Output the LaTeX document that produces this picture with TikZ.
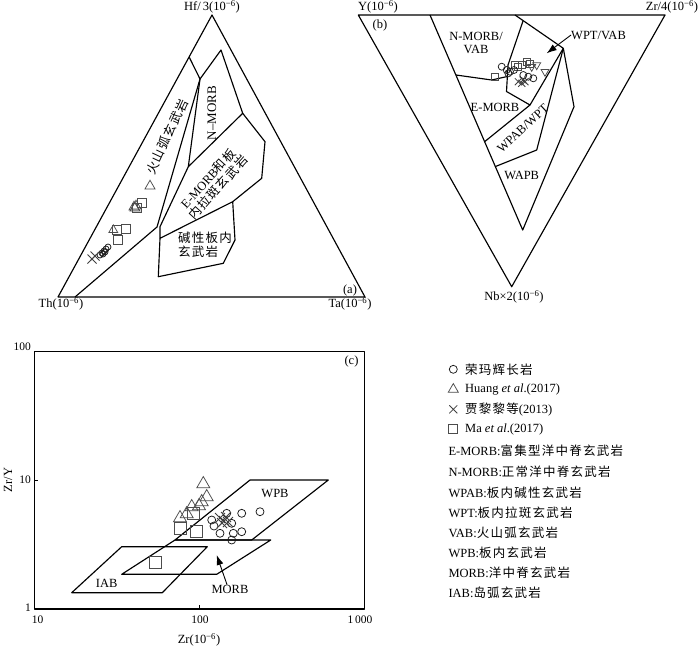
\documentclass[tikz,border=0pt]{standalone}
\usepackage{fontspec}
\setmainfont{Liberation Serif}
\newfontfamily\cjk{Noto Sans CJK SC}[LetterSpace=10]
\usetikzlibrary{arrows.meta,calc}
\newcommand\ppm{(10\textsuperscript{−6})}
\newcommand\mkT[3]{\draw[mk] ({#1-#3/2},{#2+0.289*#3}) -- ({#1+#3/2},{#2+0.289*#3}) -- ({#1},{#2-0.577*#3}) -- cycle;}
\newcommand\mkV[3]{\draw[mk] ({#1-#3/2},{#2-0.289*#3}) -- ({#1+#3/2},{#2-0.289*#3}) -- ({#1},{#2+0.577*#3}) -- cycle;}
\newcommand\mkS[3]{\draw[mk] ({#1-#3/2},{#2-#3/2}) rectangle ({#1+#3/2},{#2+#3/2});}
\newcommand\mkC[3]{\draw[mkc] (#1,#2) circle[radius=#3];}
\newcommand\mkX[3]{\draw[mkx] ({#1-#3/2},{#2-#3/2}) -- ({#1+#3/2},{#2+#3/2}) ({#1-#3/2},{#2+#3/2}) -- ({#1+#3/2},{#2-#3/2});}
\tikzset{
  ln/.style={line width=1.15pt, line join=round},
  lbl/.style={font=\fontsize{12.5}{13.5}\selectfont, inner sep=0pt},
  tlbl/.style={font=\fontsize{11.5}{13}\selectfont, inner sep=0pt},
  mk/.style={line width=0.75pt, draw=black!70},
  mkc/.style={line width=0.75pt, draw=black!90},
  mkx/.style={line width=0.85pt, draw=black!75},
  arr/.style={line width=0.9pt, -{Latex[length=10pt,width=7pt]}},
}
\begin{document}
\begin{tikzpicture}[x=1pt,y=-1pt]
\useasboundingbox[fill=white] (0,0) rectangle (700,646);
% ---------------- panel (a)
\draw[ln] (212,15) -- (365,297) -- (58,297) -- cycle;
\draw[ln] (189.3,57.3) -- (200,79) -- (157,227) -- (75,297);
\draw[ln] (200,79) -- (221,50) -- (242.7,113.3) -- (188.3,166.7) -- cycle;
\draw[ln] (242.7,113.3) -- (265,141.7) -- (261.7,178.3) -- (232.7,201.7) -- (160,238.3) -- (160,226.7) -- (188.3,166.7);
\draw[ln] (232.7,201.7) -- (235,240) -- (223.3,263.3) -- (158.3,276.7) -- (160,238.3);
\node[lbl] (hf) at (212,7) {Hf/\,3\ppm};
\node[lbl] (th) at (61,304) {Th\ppm};
\node[lbl] (ta) at (350,304) {Ta\ppm};
\node[lbl] (pa) at (350,290) {(a)};
\node[lbl,rotate=65] (vab) at (167,137) {\cjk 火山弧玄武岩};
\node[lbl,font=\fontsize{13}{14}\selectfont,rotate=90] (nmorb) at (212,113) {N–MORB};
\node[lbl,rotate=48,align=center] (emorb) at (213,183) {E-MORB{\cjk 和板}\\{\cjk 内拉斑玄武岩}};
\node[lbl,anchor=north west,align=left] (wpa) at (178,232) {\cjk 碱性板内\\\cjk 玄武岩};
% data (a)
\mkT{150}{186}{10}
\mkS{141.7}{203.3}{9}
\mkS{137.3}{208.3}{9}
\mkT{134}{207}{10}
\mkT{136}{206}{10}
\mkT{135}{208}{10}
\mkS{116.7}{230}{9}
\mkS{125.7}{229.3}{9}
\mkT{113.3}{230}{9}
\mkS{118.3}{240}{9}
\mkC{108}{247}{3}
\mkC{106}{249}{3}
\mkC{104}{251}{3}
\mkC{102}{253}{3}
\mkC{105}{252}{3}
\mkC{100}{255}{3}
\mkC{103}{254}{3}
\mkX{95}{256}{9}
\mkX{92}{259}{9}
% ---------------- panel (b)
\draw[ln] (358.3,15) -- (665,15) -- (511.7,286.7) -- cycle;
\draw[ln] (430,15) -- (522.7,230) -- (574,106.7) -- (563.3,48.3) -- (515,15);
\draw[ln] (523,21) -- (508,65) -- (506.5,91.5) -- (530,105) -- (563.3,48.3);
\draw[ln] (484.6,141.7) -- (530,105);
\draw[ln] (495,166.7) -- (536.7,150) -- (563.3,48.3);
\draw[ln] (456,75) -- (491.7,80) -- (507.3,76.5);
\node[lbl] (yl) at (378,7) {Y\ppm};
\node[lbl] (zrl) at (672,7) {Zr/4\ppm};
\node[lbl] (nbl) at (514,297) {Nb×2\ppm};
\node[lbl] (pb) at (380,25) {(b)};
\node[lbl,align=center] (nvab) at (476,43) {N-MORB/\\VAB};
\node[lbl] (emb) at (495,107) {E-MORB};
\node[lbl,rotate=43] (wpab) at (522.7,128.3) {WPAB/WPT};
\node[lbl] (wapb) at (521.7,175) {WAPB};
\node[lbl,anchor=west] (wptvab) at (571,35) {WPT/VAB};
\coordinate (wptTip) at (546.7,53.3);
\draw[arr] (wptvab.west) -- (wptTip);
% data (b)
\mkS{495}{76.7}{7}
\mkS{526.7}{61.7}{7}
\mkS{518.3}{66.7}{7}
\mkS{515}{65}{7}
\mkS{521.7}{65}{7}
\mkS{530}{64}{7}
\mkV{536.7}{65}{8}
\mkV{545}{71.7}{8}
\mkV{531.7}{66.7}{8}
\mkC{501.7}{66.7}{3.5}
\mkC{506.7}{70}{3.5}
\mkC{510}{71.7}{3.5}
\mkC{508.3}{73.3}{3.5}
\mkC{514}{70}{3.5}
\mkC{523.3}{75}{3.5}
\mkC{528.3}{76.7}{3.5}
\mkC{533.3}{78.3}{3.5}
\mkX{518.3}{81.7}{7}
\mkX{521.7}{83.3}{7}
\mkX{525}{81.7}{7}
\mkX{523}{80}{7}
% ---------------- panel (c)
\draw[ln] (34.3,351.7) rectangle (364.3,609);
\draw[line width=0.8pt] (34.3,480) -- (38.3,480) (34.3,351.7) -- (38.3,351.7)
  (199.3,609) -- (199.3,605) (34.3,609) -- (34.3,605) (364.3,609) -- (364.3,605);
\draw[ln] (175,540) -- (250,480) -- (328.3,480) -- (251.7,540) -- cycle;
\draw[ln] (121.7,574.3) -- (175,540) -- (270.7,540) -- (216.7,574.3) -- cycle;
\draw[ln] (71.7,592.7) -- (121.7,546.7) -- (207.3,546.7) -- (162.3,592.7) -- cycle;
\node[tlbl,anchor=east] (y100) at (31,347) {100};
\node[tlbl,anchor=east] (y10) at (31,480) {10};
\node[tlbl,anchor=east] (y1) at (31,608) {1};
\node[tlbl] (x10) at (37.7,620) {10};
\node[tlbl] (x100) at (200,620) {100};
\node[tlbl] (x1000) at (360,620) {1\,000};
\node[lbl] (xt) at (199,640) {Zr\ppm};
\node[lbl,rotate=90] (yt) at (8,480) {Zr/Y};
\node[lbl] (pc) at (351.5,361.7) {(c)};
\node[lbl] (wpb) at (275,493.3) {WPB};
\node[lbl] (iab) at (106.7,583.3) {IAB};
\node[lbl] (morb) at (230,589) {MORB};
\coordinate (morbTip) at (216.7,555);
\draw[arr] ($(morb.north)+(-3,0)$) -- (morbTip);
% data (c)
\mkT{203.3}{484}{13}
\mkT{206.7}{497}{13}
\mkT{201.7}{502}{13}
\mkT{199}{506}{13}
\mkT{191.7}{507}{13}
\mkT{186.7}{514}{13}
\mkT{180}{518}{13}
\mkS{193.3}{513.3}{12}
\mkS{180}{528.3}{12}
\mkS{196.7}{531.7}{12}
\mkS{155}{562.7}{12}
\mkC{211.7}{520}{4}
\mkC{214}{526}{4}
\mkC{226.7}{513.3}{4}
\mkC{241.7}{513.3}{4}
\mkC{260}{511.7}{4}
\mkC{231.7}{523.3}{4}
\mkC{220}{533.3}{4}
\mkC{233.3}{533.3}{4}
\mkC{241.7}{531.7}{4}
\mkC{231.7}{540}{4}
\mkX{220}{518}{10}
\mkX{224}{521}{10}
\mkX{226}{517}{10}
\mkX{222}{523}{10}
\mkX{228}{522}{10}
% ---------------- legend
\mkC{453.3}{369.3}{4}
\mkT{453.3}{389.3}{10}
\mkX{453.3}{409.3}{8}
\mkS{453.3}{429.3}{9}
\node[lbl,anchor=west] (l1) at (465,369.3) {\cjk 荣玛辉长岩};
\node[lbl,anchor=west] (l2) at (465,389.3) {Huang \textit{et al}.(2017)};
\node[lbl,anchor=west] (l3) at (465,409.3) {{\cjk 贾黎黎等}(2013)};
\node[lbl,anchor=west] (l4) at (465,429.3) {Ma \textit{et al}.(2017)};
\node[lbl,anchor=west] (l5) at (448.3,451) {E-MORB:{\cjk 富集型洋中脊玄武岩}};
\node[lbl,anchor=west] (l6) at (448.3,471.7) {N-MORB:{\cjk 正常洋中脊玄武岩}};
\node[lbl,anchor=west] (l7) at (448.3,492.3) {WPAB:{\cjk 板内碱性玄武岩}};
\node[lbl,anchor=west] (l8) at (448.3,512.3) {WPT:{\cjk 板内拉斑玄武岩}};
\node[lbl,anchor=west] (l9) at (448.3,532.3) {VAB:{\cjk 火山弧玄武岩}};
\node[lbl,anchor=west] (l10) at (448.3,552.3) {WPB:{\cjk 板内玄武岩}};
\node[lbl,anchor=west] (l11) at (448.3,572.3) {MORB:{\cjk 洋中脊玄武岩}};
\node[lbl,anchor=west] (l12) at (448.3,592.3) {IAB:{\cjk 岛弧玄武岩}};
\end{tikzpicture}
\end{document}
